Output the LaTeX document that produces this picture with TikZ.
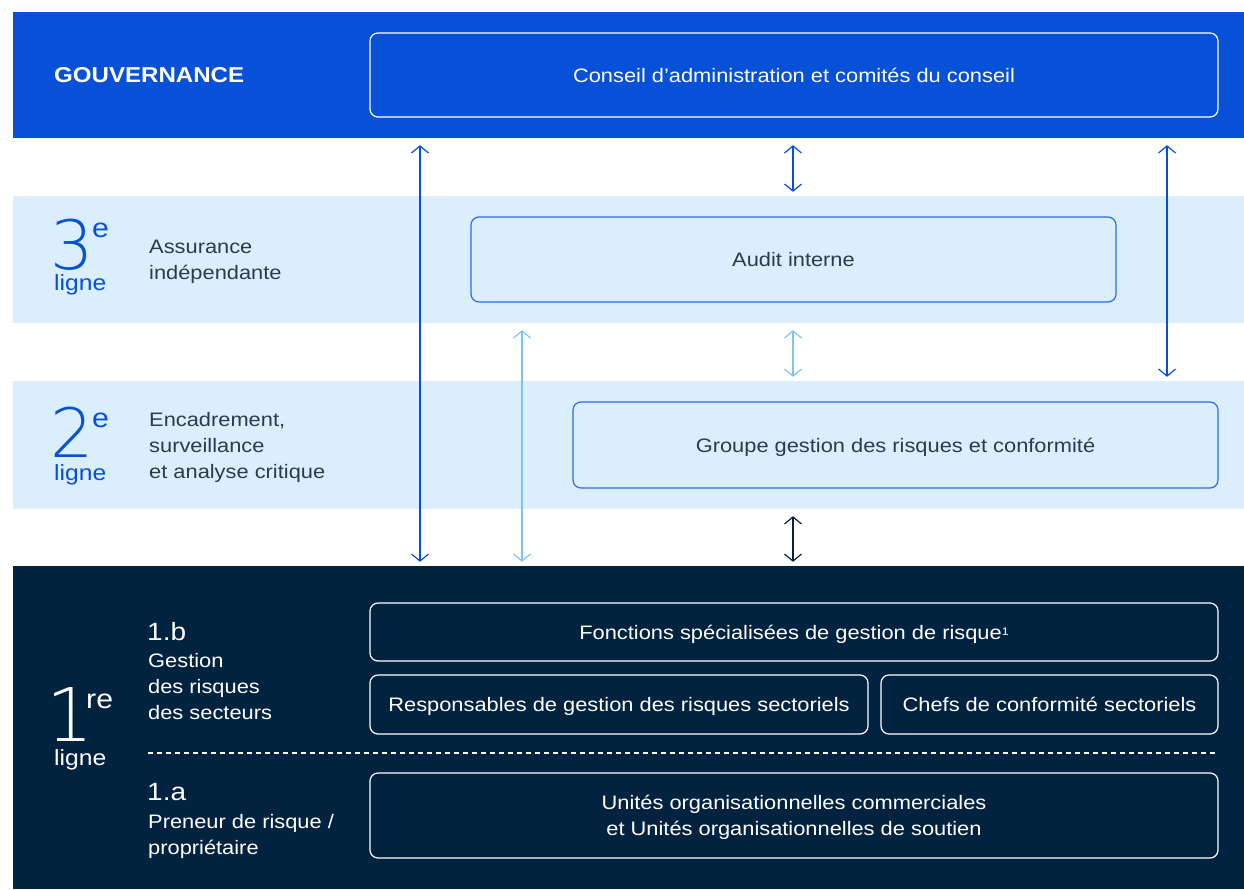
\documentclass[tikz,border=0pt]{standalone}
\usepackage{fontspec}
\setmainfont{Liberation Sans}[FakeStretch=1.12]
\newfontfamily\thinfont{DejaVu Sans ExtraLight}
\usetikzlibrary{arrows.meta}

\definecolor{govblue}{RGB}{7,80,216}
\definecolor{paleblue}{RGB}{218,238,252}
\definecolor{navy}{RGB}{2,35,63}
\definecolor{boxblue}{RGB}{45,108,226}
\definecolor{skyarrow}{RGB}{125,196,240}
\definecolor{slate}{RGB}{42,58,80}

\newcommand{\pxfont}[1]{\fontsize{#1}{#1}\selectfont}

\begin{document}
\begin{tikzpicture}[x=1pt, y=-1pt,
  every node/.style={font=\fontsize{19.5}{26}\selectfont, inner sep=0pt},
  band/.style={rectangle, minimum width=1231pt},
  boxed/.style={rectangle, rounded corners=8pt, line width=1.2pt, text depth=0pt},
  lightbox/.style={boxed, draw=boxblue, text=slate},
  darkbox/.style={boxed, draw=white, text=white},
  bignum/.style={anchor=base west, font=\thinfont\pxfont{68}},
  arr/.style={<->, >={Straight Barb[length=7pt,width=17pt]}, line width=1.2pt,
    shorten <=7pt, shorten >=4pt}]
\useasboundingbox (0,0) rectangle (1244,889);
\fill[white] (0,0) rectangle (1244,889);

\node[band, fill=govblue, minimum height=126pt] (gov) at (628.5,75) {};
\node[band, fill=paleblue, minimum height=127pt] (third) at (628.5,259.5) {};
\node[band, fill=paleblue, minimum height=128pt] (second) at (628.5,445) {};
\node[band, fill=navy, minimum height=323pt] (first) at (628.5,727.5) {};

\foreach \x/\from/\to/\col in {
	420/gov/first/govblue,
	793/gov/third/govblue,
	1167/gov/second/govblue,
	522/third/first/skyarrow,
	793/third/second/skyarrow,
	793/second/first/navy%
	} {
	\coordinate (ax) at (\x,0);
	\draw [arr, color=\col] (\from.south -| ax) -- (\to.north -| ax);
}

\node[anchor=west, text=white, font=\bfseries\pxfont{21.5}] (govlabel) at (54,75) {GOUVERNANCE};
\node[darkbox, minimum width=848pt, minimum height=84pt] (board) at (794,75)
  {Conseil d’administration et comités du conseil};

\node[bignum, text=govblue] (three) at (50,269) {3};
\node[anchor=base west, text=govblue, font=\pxfont{27}] (threesup) at (92,237) {e};
\node[anchor=base west, text=govblue, font=\pxfont{22}] (threeligne) at (54,290) {ligne};
\node[anchor=west, text=slate, align=left] (thirdtxt) at (149,262) {Assurance\\indépendante};
\node[lightbox, minimum width=645pt, minimum height=85pt] (audit) at (793.5,259.5) {Audit interne};

\node[bignum, text=govblue] (two) at (50,457) {2};
\node[anchor=base west, text=govblue, font=\pxfont{27}] (twosup) at (92,427) {e};
\node[anchor=base west, text=govblue, font=\pxfont{22}] (twoligne) at (54,480) {ligne};
\node[anchor=west, text=slate, align=left] (secondtxt) at (149,447)
  {Encadrement,\\surveillance\\et analyse critique};
\node[lightbox, minimum width=645pt, minimum height=86pt] (risk) at (895.5,445)
  {Groupe gestion des risques et conformité};

\node[bignum, text=white, font=\thinfont\pxfont{74}] (one) at (46,741) {1};
\node[anchor=base west, text=white, font=\pxfont{27}] (onesup) at (86,708) {re};
\node[anchor=base west, text=white, font=\pxfont{22}] (oneligne) at (54,765) {ligne};

\node[anchor=base west, text=white, font=\pxfont{25}] (oneb) at (147,640) {1.b};
\node[anchor=west, text=white, align=left] (onebtxt) at (148,687)
  {Gestion\\des risques\\des secteurs};
\node[anchor=base west, text=white, font=\pxfont{25}] (onea) at (147,800) {1.a};
\node[anchor=west, text=white, align=left] (oneatxt) at (148,836)
  {Preneur de risque /\\propriétaire};

\node[darkbox, minimum width=848pt, minimum height=58pt] (special) at (794,632)
  {Fonctions spécialisées de gestion de risque\raisebox{4pt}{\pxfont{11}1}};
\node[darkbox, minimum width=498pt, minimum height=59pt] (sector) at (619,704.5)
  {Responsables de gestion des risques sectoriels};
\node[darkbox, minimum width=337pt, minimum height=59pt] (chiefs) at (1049.5,704.5)
  {Chefs de conformité sectoriels};
\draw [white, line width=1.2pt, dash pattern=on 5pt off 4pt] (148,753) -- (1218,753);
\node[darkbox, minimum width=848pt, minimum height=85pt, align=center] (units) at (794,815.5)
  {Unités organisationnelles commerciales\\et Unités organisationnelles de soutien};
\end{tikzpicture}
\end{document}
